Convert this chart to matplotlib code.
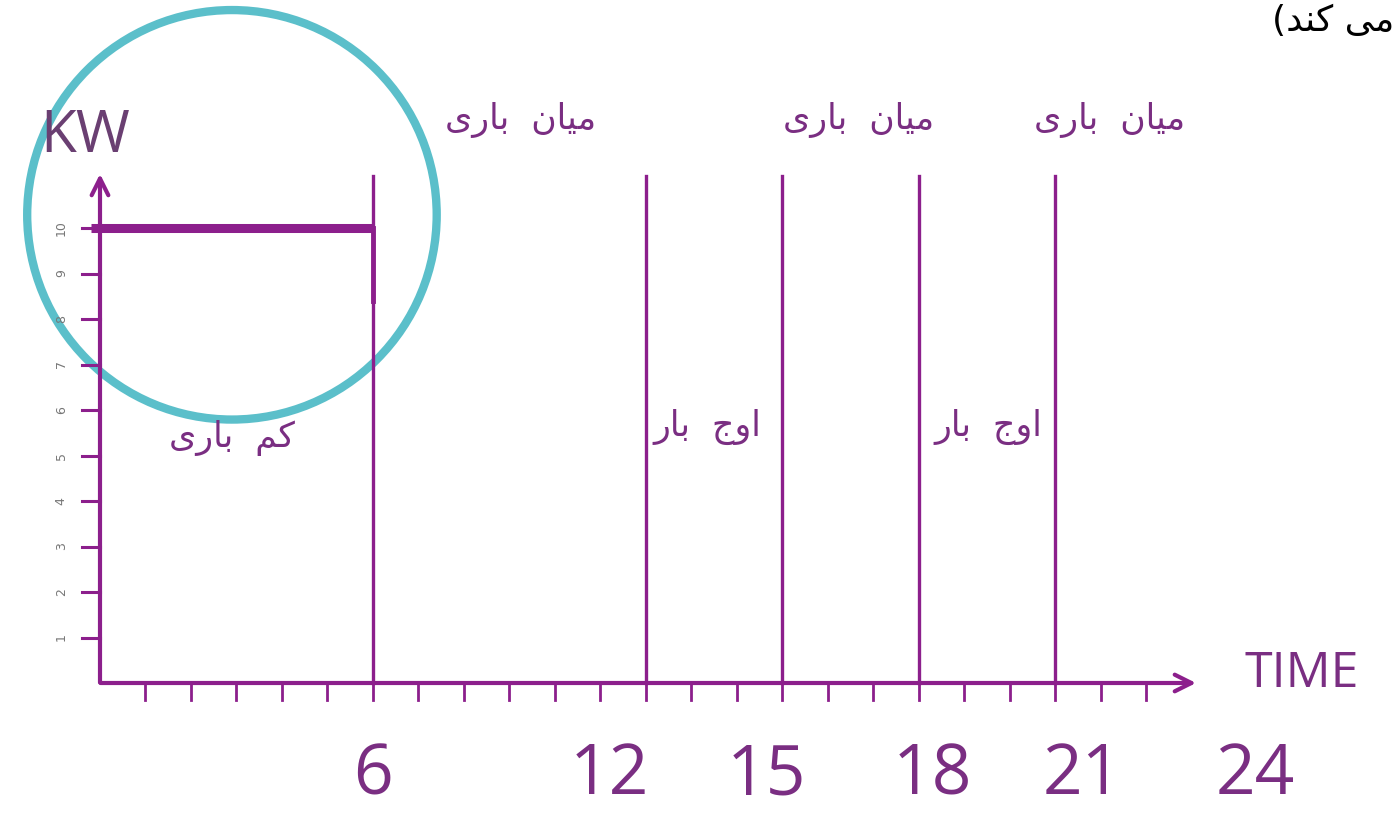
import matplotlib.pyplot as plt
from matplotlib.patches import Circle

# data
hours = list(range(1, 24))
kw_ticks = list(range(1, 11))
kw_tick_labels = [str(v) for v in kw_ticks]
boundaries = [6, 12, 15, 18, 21]
hour_labels = ['6', '12', '15', '18', '21', '24']
low_load_level = 10
low_load_span = [0, 6]

# persian labels (presentation forms, visual order)
mid_load = '\uFEEF\uFEAD\uFE8E\uFE91  \uFEE5\uFE8E\uFEF4\uFEE3'    # میان باری
low_load = '\uFEEF\uFEAD\uFE8E\uFE91  \uFEE2\uFEDB'                # کم باری
peak_load = '\uFEAD\uFE8E\uFE91  \uFE9D\uFEED\uFE8D'               # اوج بار
top_note = '(\uFEAA\uFEE8\uFEDB \uFEF0\uFEE3'                      # می کند)

line_c = '#8c1f8c'
text_c = '#7a2e82'
circle_c = '#5bbfca'

# layout (hours / kW, 45.5 px per unit)
label_x = [6, 11.2, 14.65, 18.3, 21.6, 25.4]
mid_x = [9.25, 16.68, 22.18]
peak_x = [13.34, 19.52]

fig = plt.figure(figsize=(13.97, 8.16), dpi=100)
ax = fig.add_axes([0, 0, 1, 1])
ax.set_xlim(-100 / 45.5, 1297 / 45.5)
ax.set_ylim(-133 / 45.5, 683 / 45.5)
ax.axis('off')

# axes with arrows
ax.annotate('', xy=(24.15, 0), xytext=(-0.05, 0),
            arrowprops=dict(arrowstyle='->', lw=3, color=line_c, mutation_scale=30))
ax.annotate('', xy=(0, 11.25), xytext=(0, -0.05),
            arrowprops=dict(arrowstyle='->', lw=3, color=line_c, mutation_scale=30))

# ticks
for h in hours:
    ax.plot([h, h], [0, -0.37], color=line_c, lw=2)
for k, lab in zip(kw_ticks, kw_tick_labels):
    ax.plot([0, -0.4], [k, k], color=line_c, lw=2.2)
    ax.text(-0.85, k, lab, rotation=90, fontsize=9, color='#777777',
            ha='center', va='center')

# boundary lines
for b in boundaries:
    ax.plot([b, b], [0, 11.15], color=line_c, lw=2.4)

# low load level
ax.plot([low_load_span[0] - 0.2, low_load_span[1]], [low_load_level] * 2,
        color=line_c, lw=6.5, solid_capstyle='butt')
ax.plot([low_load_span[1], low_load_span[1]], [8.4, low_load_level],
        color=line_c, lw=3.5)

# circle
ax.add_patch(Circle((2.9, 10.29), 4.5, fill=False, ec=circle_c, lw=6))

# texts
ax.text(-0.33, 12.0, 'KW', fontsize=42, color='#6a3f72', ha='center', va='center',
        family='Open Sans')
ax.text(26.42, 0.2, 'TIME', fontsize=36, color=text_c, ha='center', va='center',
        family='Open Sans')
for x, lab in zip(label_x, hour_labels):
    ax.text(x, -2.05, lab, fontsize=50, color=text_c, ha='center', va='center',
            family='Open Sans')

for x in mid_x:
    ax.text(x, 12.37, mid_load, fontsize=25, color=text_c, ha='center', va='center',
            family='DejaVu Sans')
for x in peak_x:
    ax.text(x, 5.63, peak_load, fontsize=25, color=text_c, ha='center', va='center',
            family='DejaVu Sans')
ax.text(2.9, 5.38, low_load, fontsize=25, color=text_c, ha='center', va='center',
        family='DejaVu Sans')
ax.text(28.45, 14.55, top_note, fontsize=26, color='black', ha='right', va='center',
        family='DejaVu Sans')

fig.savefig('out.png', dpi=100)
